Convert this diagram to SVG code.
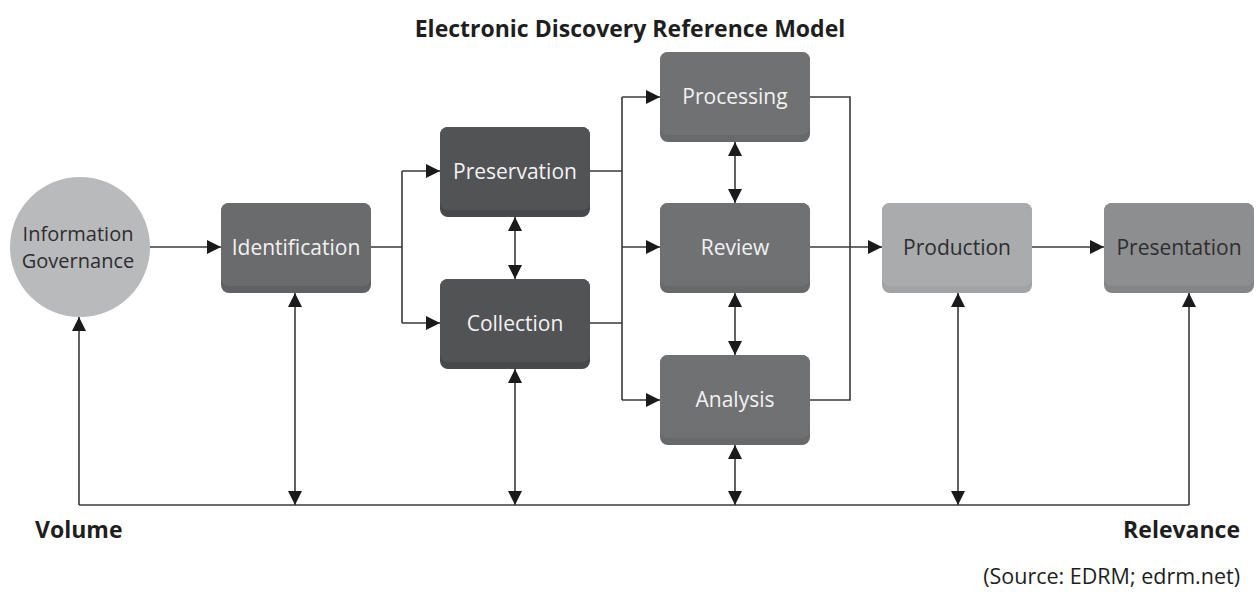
<svg xmlns="http://www.w3.org/2000/svg" width="1258" height="595" viewBox="0 0 1258 595">
<defs>
<marker id="ahl" viewBox="0 0 12 12" refX="12" refY="6" markerWidth="14" markerHeight="14" markerUnits="userSpaceOnUse" orient="auto-start-reverse">
<path d="M0,0 L12,6 L0,12 z" fill="#1a1a1a"/>
</marker>
</defs>
<style>
text{font-family:"Open Sans","Noto Sans","Liberation Sans",sans-serif;}
.lbl{font-size:21px;text-anchor:middle;}
.w{fill:#f2f2f2;}
.d{fill:#2e2e2e;}
.c{fill:none;stroke:#3a3a3a;stroke-width:1.6;}
.ca{fill:none;stroke:#3a3a3a;stroke-width:1.6;marker-end:url(#ahl);}
.cb{fill:none;stroke:#3a3a3a;stroke-width:1.6;marker-start:url(#ahl);marker-end:url(#ahl);}
.bold{font-weight:bold;fill:#1e1e1e;}
</style>
<rect width="1258" height="595" fill="#ffffff"/>
<text x="630" y="37" class="bold" font-size="23" text-anchor="middle">Electronic Discovery Reference Model</text>

<g id="connectors">
<path class="ca" d="M150,247 H221"/>
<path class="c" d="M371,247 H402 M402,171 V323"/>
<path class="ca" d="M402,171 H440"/>
<path class="ca" d="M402,323 H440"/>
<path class="cb" d="M515,217 V279"/>
<path class="c" d="M590,171 H622 M590,323 H622 M622,97 V400"/>
<path class="ca" d="M622,97 H660"/>
<path class="ca" d="M622,247 H660"/>
<path class="ca" d="M622,400 H660"/>
<path class="cb" d="M735,142 V203"/>
<path class="cb" d="M735,293 V355"/>
<path class="c" d="M810,97 H850 V400 H810"/>
<path class="ca" d="M810,247 H882"/>
<path class="ca" d="M1032,247 H1104"/>
<path class="c" d="M79,505 H1189"/>
<path class="ca" d="M79,505 V317"/>
<path class="ca" d="M1189,505 V293"/>
<path class="cb" d="M295,293 V505"/>
<path class="cb" d="M515,369 V505"/>
<path class="cb" d="M735,445 V505"/>
<path class="cb" d="M958,293 V505"/>
</g>

<g id="information-governance">
<circle cx="80" cy="247" r="70" fill="#b9babc"/>
<text x="78" y="241" class="d" font-size="20" text-anchor="middle">Information</text>
<text x="78" y="268" class="d" font-size="20" text-anchor="middle">Governance</text>
</g>
<g id="identification">
<rect x="221" y="203" width="150" height="90" rx="8" fill="#606163"/>
<rect x="221" y="203" width="150" height="83" rx="8" fill="#6a6b6d"/>
<text x="296" y="255" class="lbl w">Identification</text>
</g>
<g id="preservation">
<rect x="440" y="127" width="150" height="90" rx="8" fill="#48494b"/>
<rect x="440" y="127" width="150" height="83" rx="8" fill="#525355"/>
<text x="515" y="179" class="lbl w">Preservation</text>
</g>
<g id="collection">
<rect x="440" y="279" width="150" height="90" rx="8" fill="#48494b"/>
<rect x="440" y="279" width="150" height="83" rx="8" fill="#525355"/>
<text x="515" y="331" class="lbl w">Collection</text>
</g>
<g id="processing">
<rect x="660" y="52" width="150" height="90" rx="8" fill="#68696b"/>
<rect x="660" y="52" width="150" height="83" rx="8" fill="#707173"/>
<text x="735" y="104" class="lbl w">Processing</text>
</g>
<g id="review">
<rect x="660" y="203" width="150" height="90" rx="8" fill="#68696b"/>
<rect x="660" y="203" width="150" height="83" rx="8" fill="#707173"/>
<text x="735" y="255" class="lbl w">Review</text>
</g>
<g id="analysis">
<rect x="660" y="355" width="150" height="90" rx="8" fill="#68696b"/>
<rect x="660" y="355" width="150" height="83" rx="8" fill="#707173"/>
<text x="735" y="407" class="lbl w">Analysis</text>
</g>
<g id="production">
<rect x="882" y="203" width="150" height="90" rx="8" fill="#a2a3a5"/>
<rect x="882" y="203" width="150" height="83" rx="8" fill="#aaabad"/>
<text x="957" y="255" class="lbl d">Production</text>
</g>
<g id="presentation">
<rect x="1104" y="203" width="150" height="90" rx="8" fill="#848587"/>
<rect x="1104" y="203" width="150" height="83" rx="8" fill="#8d8e90"/>
<text x="1179" y="255" class="lbl d">Presentation</text>
</g>

<text x="35" y="538" class="bold" font-size="23">Volume</text>
<text x="1240" y="538" class="bold" font-size="23" text-anchor="end">Relevance</text>
<text x="1240" y="584" font-size="21.5" fill="#1e1e1e" text-anchor="end">(Source: EDRM; edrm.net)</text>
</svg>
